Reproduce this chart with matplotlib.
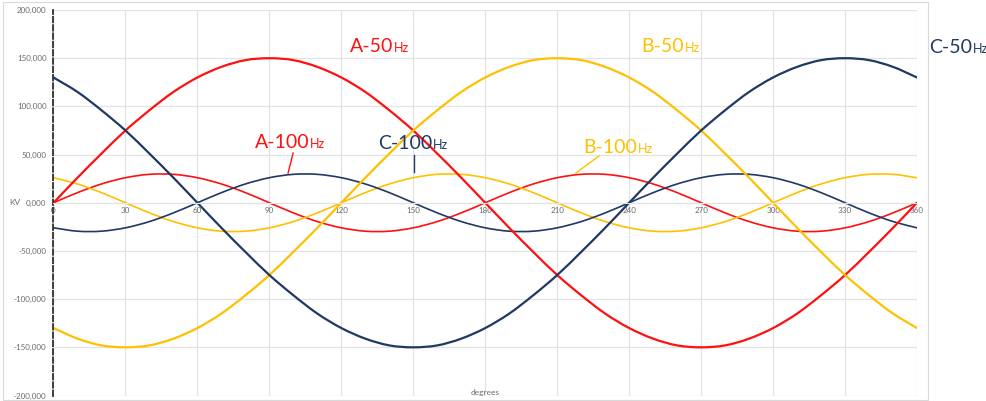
import numpy as np
import matplotlib
matplotlib.use("Agg")
import matplotlib.pyplot as plt
from matplotlib.patches import Rectangle, PathPatch
from matplotlib.path import Path

plt.rcParams["font.family"] = ["Lato", "DejaVu Sans"]

# values every 10 degrees
degrees = list(range(0, 361, 10))

a_50 = [0, 26000, 51000, 75000, 96000, 115000, 130000, 141000, 148000, 150000,
        148000, 141000, 130000, 115000, 96000, 75000, 51000, 26000, 0,
        -26000, -51000, -75000, -96000, -115000, -130000, -141000, -148000, -150000,
        -148000, -141000, -130000, -115000, -96000, -75000, -51000, -26000, 0]
b_50 = [-130000, -141000, -148000, -150000, -148000, -141000, -130000, -115000, -96000, -75000,
        -51000, -26000, 0, 26000, 51000, 75000, 96000, 115000, 130000,
        141000, 148000, 150000, 148000, 141000, 130000, 115000, 96000, 75000,
        51000, 26000, 0, -26000, -51000, -75000, -96000, -115000, -130000]
c_50 = [130000, 115000, 96000, 75000, 51000, 26000, 0, -26000, -51000, -75000,
        -96000, -115000, -130000, -141000, -148000, -150000, -148000, -141000, -130000,
        -115000, -96000, -75000, -51000, -26000, 0, 26000, 51000, 75000,
        96000, 115000, 130000, 141000, 148000, 150000, 148000, 141000, 130000]

a_100 = [0, 10500, 19500, 26000, 29500, 29500, 26000, 19500, 10500, 0,
         -10500, -19500, -26000, -29500, -29500, -26000, -19500, -10500, 0,
         10500, 19500, 26000, 29500, 29500, 26000, 19500, 10500, 0,
         -10500, -19500, -26000, -29500, -29500, -26000, -19500, -10500, 0]
b_100 = [26000, 19500, 10500, 0, -10500, -19500, -26000, -29500, -29500, -26000,
         -19500, -10500, 0, 10500, 19500, 26000, 29500, 29500, 26000,
         19500, 10500, 0, -10500, -19500, -26000, -29500, -29500, -26000,
         -19500, -10500, 0, 10500, 19500, 26000, 29500, 29500, 26000]
c_100 = [-26000, -29500, -29500, -26000, -19500, -10500, 0, 10500, 19500, 26000,
         29500, 29500, 26000, 19500, 10500, 0, -10500, -19500, -26000,
         -29500, -29500, -26000, -19500, -10500, 0, 10500, 19500, 26000,
         29500, 29500, 26000, 19500, 10500, 0, -10500, -19500, -26000]

x_ticks = list(range(0, 361, 30))
y_ticks = [200000, 150000, 100000, 50000, 0, -50000, -100000, -150000, -200000]
y_tick_labels = ["200,000", "150,000", "100,000", "50,000", "0,000",
                 "-50,000", "-100,000", "-150,000", "-200,000"]

RED = "#FF1010"
GOLD = "#FFC000"
NAVY = "#1F3864"


def smooth_line(ax, xs, ys, **kw):
    # Excel-style smoothed line: cubic bezier through the data points
    p = np.column_stack([xs, ys]).astype(float)
    m = np.zeros_like(p)
    m[1:-1] = (p[2:] - p[:-2]) / 2
    m[0] = p[1] - p[0]
    m[-1] = p[-1] - p[-2]
    verts = [p[0]]
    codes = [Path.MOVETO]
    for i in range(len(p) - 1):
        verts += [p[i] + m[i] / 3, p[i + 1] - m[i + 1] / 3, p[i + 1]]
        codes += [Path.CURVE4] * 3
    ax.add_patch(PathPatch(Path(verts, codes), fill=False, capstyle="round",
                           joinstyle="round", **kw))


fig = plt.figure(figsize=(9.87, 4.01), dpi=100)
ax = fig.add_axes([0.0542, 0.0137, 0.8749, 0.9613])

fig.patches.append(Rectangle((3 / 987, 1 - 400 / 401), 925 / 987, 398 / 401,
                             transform=fig.transFigure, fill=False,
                             edgecolor="#d9d9d9", lw=0.8, zorder=0))

smooth_line(ax, degrees, a_100, edgecolor=RED, lw=1.2)
smooth_line(ax, degrees, b_100, edgecolor=GOLD, lw=1.2)
smooth_line(ax, degrees, c_100, edgecolor=NAVY, lw=1.2)
smooth_line(ax, degrees, a_50, edgecolor=RED, lw=1.6)
smooth_line(ax, degrees, b_50, edgecolor=GOLD, lw=1.6)
smooth_line(ax, degrees, c_50, edgecolor=NAVY, lw=1.6)

ax.set_xlim(0, 360)
ax.set_ylim(-200000, 200000)
ax.set_xticks(x_ticks)
ax.set_yticks(y_ticks)
ax.set_yticklabels(y_tick_labels)
ax.grid(True, color="#e3e3e3", lw=0.9)
ax.set_axisbelow(True)

for s in ["top", "right"]:
    ax.spines[s].set_visible(False)
ax.spines["bottom"].set_position(("data", 0))
ax.spines["bottom"].set_color("#e3e3e3")
ax.spines["left"].set_color("#303030")
ax.spines["left"].set_linewidth(1.3)
ax.spines["left"].set_linestyle((0, (3, 1.6)))
ax.tick_params(axis="both", length=0, labelsize=5.8, labelcolor="#6a6a6a")
ax.tick_params(axis="y", pad=5)
ax.tick_params(axis="x", pad=3)

ax.text(-16, 0, "KV", fontsize=6, color="#6a6a6a", ha="center", va="center", clip_on=False)
ax.text(180, -197000, "degrees", fontsize=6, color="#6a6a6a", ha="center", va="center")

labels = [
    ("A-50", 123.6, 156400, RED),
    ("B-50", 245.2, 156100, GOLD),
    ("C-50", 365.0, 155100, NAVY),
    ("A-100", 84.0, 56800, RED),
    ("C-100", 135.2, 55500, NAVY),
    ("B-100", 220.9, 51900, GOLD),
]
fig.canvas.draw()
renderer = fig.canvas.get_renderer()
for txt, x, y, col in labels:
    t = ax.text(x, y, txt, fontsize=14, color=col, va="baseline", ha="left", clip_on=False)
    bb = t.get_window_extent(renderer)
    x_end = ax.transData.inverted().transform((bb.x1, bb.y0))[0]
    ax.text(x_end + 0.3, y, "Hz", fontsize=9, color=col, va="baseline", ha="left", clip_on=False)

# pointer lines
ax.plot([99.9, 97.8], [51600, 30900], color=RED, lw=1)
ax.plot([150.3, 150.3], [49500, 31900], color=NAVY, lw=1)
ax.plot([227.4, 217.8], [48500, 30900], color=GOLD, lw=1)

fig.savefig("out.png", dpi=100)
